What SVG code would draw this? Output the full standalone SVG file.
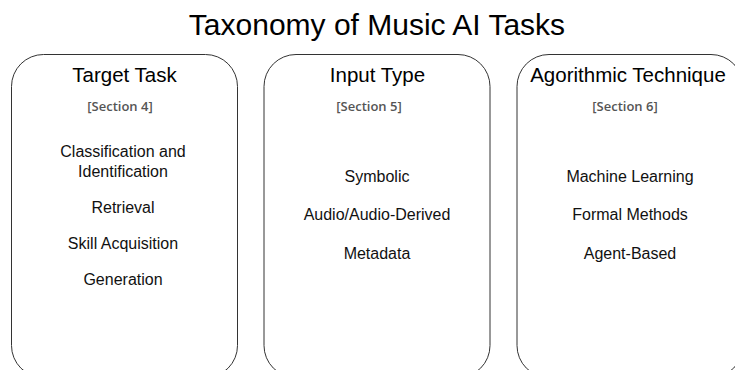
<svg xmlns="http://www.w3.org/2000/svg" width="735" height="370" viewBox="0 0 735 370">
  <style>
    .box { fill: #ffffff; stroke: #333333; stroke-width: 1; }
    .title { font-family: "Liberation Sans", Arial, sans-serif; font-size: 30px; fill: #000000; text-anchor: middle; }
    .head { font-family: "Liberation Sans", Arial, sans-serif; font-size: 20.5px; fill: #000000; text-anchor: middle; }
    .sec { font-family: "Open Sans", "Liberation Sans", sans-serif; font-size: 13px; font-weight: 600; fill: #555555; text-anchor: middle; }
    .item { font-family: "Liberation Sans", Arial, sans-serif; font-size: 16px; fill: #111111; text-anchor: middle; }
  </style>
  <rect x="0" y="0" width="735" height="370" fill="#ffffff"/>
  <text class="title" x="377" y="35">Taxonomy of Music AI Tasks</text>
  <g id="target-task">
    <rect class="box" x="11.5" y="54.5" width="226" height="323" rx="32" ry="32"/>
    <text class="head" x="124.5" y="82">Target Task</text>
    <text class="sec" x="120" y="111">[Section 4]</text>
    <text class="item" x="123" y="157">Classification and</text>
    <text class="item" x="123" y="176.5">Identification</text>
    <text class="item" x="123" y="213">Retrieval</text>
    <text class="item" x="123" y="249">Skill Acquisition</text>
    <text class="item" x="123" y="285">Generation</text>
  </g>
  <g id="input-type">
    <rect class="box" x="264" y="54.5" width="226" height="323" rx="32" ry="32"/>
    <text class="head" x="377.5" y="82">Input Type</text>
    <text class="sec" x="369" y="111">[Section 5]</text>
    <text class="item" x="377" y="181.5">Symbolic</text>
    <text class="item" x="377" y="220">Audio/Audio-Derived</text>
    <text class="item" x="377" y="258.5">Metadata</text>
  </g>
  <g id="algorithmic-technique">
    <rect class="box" x="517" y="54.5" width="226" height="323" rx="32" ry="32"/>
    <text class="head" x="628" y="82">Agorithmic Technique</text>
    <text class="sec" x="625" y="111">[Section 6]</text>
    <text class="item" x="630" y="181.5">Machine Learning</text>
    <text class="item" x="630" y="220">Formal Methods</text>
    <text class="item" x="630" y="258.5">Agent-Based</text>
  </g>
  <g id="connectors"></g>
</svg>
